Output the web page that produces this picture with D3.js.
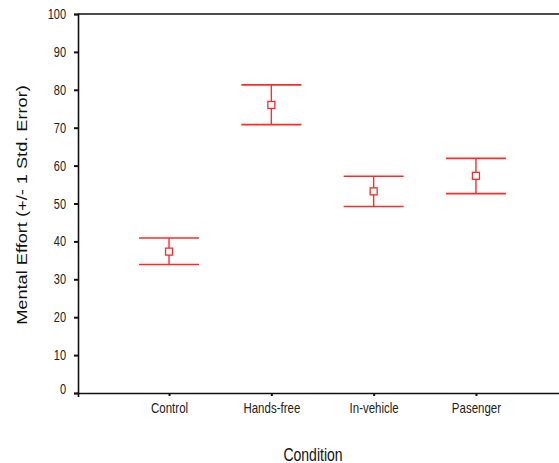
<!DOCTYPE html>
<html>
<head>
<meta charset="utf-8">
<script src="https://cdn.jsdelivr.net/npm/d3@7"></script>
<style>
  body { margin: 0; background: #fff; }
  svg { display: block; }
</style>
</head>
<body>
<div class="chart"></div>
<script>
// chart data
var conditions = ["Control", "Hands-free", "In-vehicle", "Pasenger"];
var means = [37.3, 76.0, 53.2, 57.3];
var upper = [40.9, 81.3, 57.2, 61.9];
var lower = [33.9, 70.8, 49.2, 52.6];
var yTicks = [0, 10, 20, 30, 40, 50, 60, 70, 80, 90, 100];

var svgWidth = 559;
var svgHeight = 463;

var margin = { top: 14, left: 78 };
// the plot frame runs past the right edge of the picture
var width = 489;
var height = 379;

// the text in the reference looks stretched vertically
var stretch = 1.3;

var svg = d3.select(".chart")
  .append("svg")
  .attr("width", svgWidth)
  .attr("height", svgHeight);

var chartGroup = svg.append("g")
  .attr("transform", `translate(${margin.left}, ${margin.top})`);

var xScale = d3.scalePoint()
  .domain(conditions)
  .range([0, width])
  .padding(0.89);

var yScale = d3.scaleLinear()
  .domain([0, 100])
  .range([height, 0]);

var red = "#ff2a2a";
var font = "Liberation Sans, Arial, sans-serif";

// frame: top line
chartGroup.append("line")
  .attr("x1", 0).attr("x2", width)
  .attr("y1", 0).attr("y2", 0)
  .attr("stroke", "#111")
  .attr("stroke-width", 1.6);

// y axis
var yAxis = chartGroup.append("g")
  .call(d3.axisLeft(yScale).tickValues(yTicks).tickSize(4).tickPadding(8));

// x axis
var xAxis = chartGroup.append("g")
  .attr("transform", `translate(0, ${height})`)
  .call(d3.axisBottom(xScale).tickSize(4).tickPadding(8));

[yAxis, xAxis].forEach(function(ax) {
  ax.select(".domain").attr("stroke", "#111").attr("stroke-width", 1.6);
  ax.selectAll(".tick line").attr("stroke", "#111").attr("stroke-width", 2);
});
xAxis.selectAll(".tick line").attr("y2", 3);

// tick labels: stretch vertically around their anchor
yAxis.selectAll(".tick text")
  .attr("x", null).attr("dy", null)
  .attr("transform", `translate(-12, 4.5) scale(1, ${stretch})`)
  .style("font-family", font)
  .style("font-size", "11px")
  .attr("fill", "#222");
yAxis.selectAll(".tick").filter(d => d === 0).select("text")
  .attr("transform", `translate(-12, 0) scale(1, ${stretch})`);

xAxis.selectAll(".tick text")
  .attr("y", null).attr("dy", null)
  .attr("transform", `translate(0, 20) scale(1, ${stretch})`)
  .style("font-family", font)
  .style("font-size", "11.5px")
  .attr("fill", "#222");

// error bars
var bars = chartGroup.selectAll(".errbar")
  .data(conditions)
  .enter()
  .append("g")
  .attr("class", "errbar")
  .attr("transform", d => `translate(${xScale(d)}, 0)`);

bars.append("line")
  .attr("x1", 0).attr("x2", 0)
  .attr("y1", (d, i) => yScale(upper[i]))
  .attr("y2", (d, i) => yScale(lower[i]))
  .attr("stroke", red)
  .attr("stroke-width", 1.4);

bars.append("line")
  .attr("x1", -30).attr("x2", 30)
  .attr("y1", (d, i) => yScale(upper[i]))
  .attr("y2", (d, i) => yScale(upper[i]))
  .attr("stroke", red)
  .attr("stroke-width", 1.6);

bars.append("line")
  .attr("x1", -30).attr("x2", 30)
  .attr("y1", (d, i) => yScale(lower[i]))
  .attr("y2", (d, i) => yScale(lower[i]))
  .attr("stroke", red)
  .attr("stroke-width", 1.6);

bars.append("rect")
  .attr("x", -3.5)
  .attr("y", (d, i) => yScale(means[i]) - 3.5)
  .attr("width", 7)
  .attr("height", 7)
  .attr("fill", "#fff")
  .attr("stroke", red)
  .attr("stroke-width", 1.3);

// axis titles
svg.append("text")
  .attr("transform", `translate(313, 461) scale(1, ${stretch})`)
  .attr("text-anchor", "middle")
  .style("font-family", font)
  .style("font-size", "14px")
  .attr("fill", "#111")
  .text("Condition");

svg.append("text")
  .attr("transform", `translate(27, 205) rotate(-90) scale(${stretch}, 1)`)
  .attr("text-anchor", "middle")
  .style("font-family", font)
  .style("font-size", "14px")
  .attr("fill", "#111")
  .text("Mental Effort (+/- 1 Std. Error)");
</script>
</body>
</html>
